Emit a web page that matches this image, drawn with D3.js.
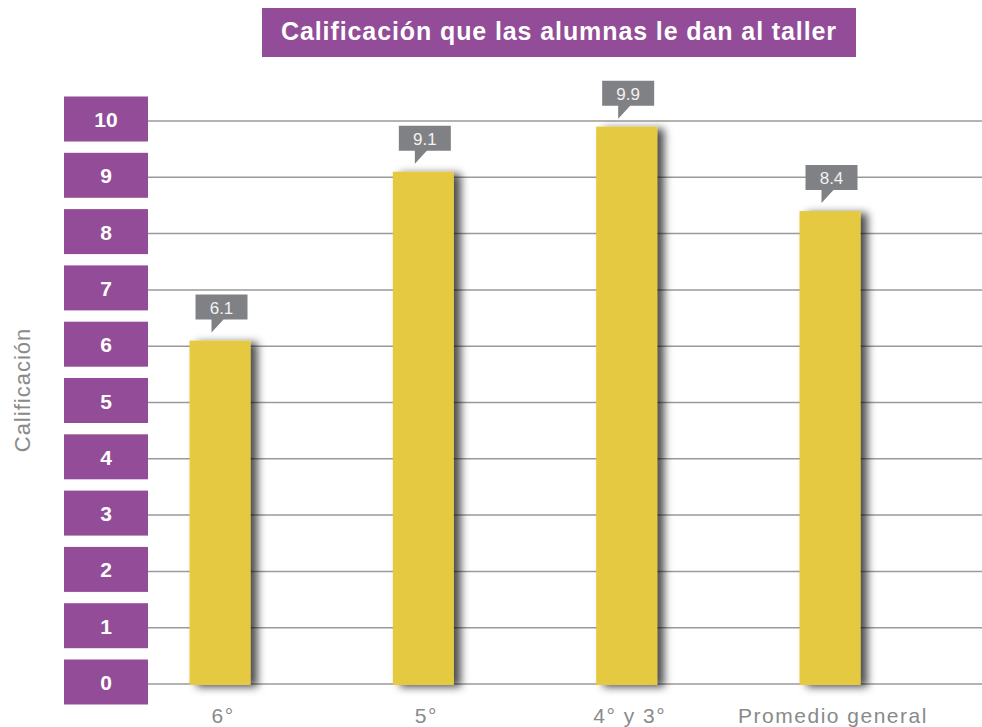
<!DOCTYPE html>
<html>
<head>
<meta charset="utf-8">
<script src="https://cdn.jsdelivr.net/npm/d3@7/dist/d3.min.js"></script>
<style>
  html, body { margin: 0; padding: 0; background: #fff; }
  svg { display: block; }
</style>
</head>
<body>
<div id="chart"></div>
<script>
// datos
const categories = ['6°', '5°', '4° y 3°', 'Promedio general'];
const values = [6.1, 9.1, 9.9, 8.4];
const valueLabels = ['6.1', '9.1', '9.9', '8.4'];
const yTicks = [0, 1, 2, 3, 4, 5, 6, 7, 8, 9, 10];
const title = 'Calificación que las alumnas le dan al taller';
const yTitle = 'Calificación';

const width = 982, height = 727;
const purple = '#934c98';
const yellow = '#e5c941';
const calloutGray = '#808184';
const font = "'Liberation Sans', Arial, Helvetica, sans-serif";

const svg = d3.select('#chart').append('svg')
    .attr('width', width)
    .attr('height', height)
    .attr('font-family', font);

// sombra de las barras
const defs = svg.append('defs');
const shadow = defs.append('filter')
    .attr('id', 'barShadow')
    .attr('x', '-30%').attr('y', '-10%')
    .attr('width', '170%').attr('height', '120%');
shadow.append('feDropShadow')
    .attr('dx', 7).attr('dy', 2)
    .attr('stdDeviation', 4.5)
    .attr('flood-color', '#000')
    .attr('flood-opacity', 0.7);

// escalas
const y = d3.scaleLinear().domain([0, 10]).range([684, 121]);
const x = d3.scalePoint().domain(categories).range([220, 830]);
const barW = 61;

// titulo
svg.append('rect')
    .attr('x', 262).attr('y', 8)
    .attr('width', 594).attr('height', 49)
    .attr('fill', purple);
svg.append('text')
    .attr('x', 559).attr('y', 40)
    .attr('text-anchor', 'middle')
    .attr('fill', '#fff')
    .attr('font-size', '25px')
    .attr('font-weight', 700)
    .attr('letter-spacing', '0.9px')
    .text(title);

// lineas de cuadricula
svg.append('g').attr('class', 'grid')
    .selectAll('line')
    .data(yTicks)
    .enter()
    .append('line')
    .attr('x1', 148).attr('x2', width)
    .attr('y1', d => y(d)).attr('y2', d => y(d))
    .attr('stroke', '#9a9a9a')
    .attr('stroke-width', 1.5);

// etiquetas del eje y en cajas moradas
const yLab = svg.append('g').attr('class', 'y-labels')
    .selectAll('g')
    .data(yTicks)
    .enter()
    .append('g')
    .attr('transform', d => `translate(64, ${y(d) - 2})`);
yLab.append('rect')
    .attr('x', 0).attr('y', -22.5)
    .attr('width', 84).attr('height', 45)
    .attr('fill', purple);
yLab.append('text')
    .attr('x', 42).attr('y', 8)
    .attr('text-anchor', 'middle')
    .attr('fill', '#fff')
    .attr('font-size', '21px')
    .attr('font-weight', 700)
    .text(d => d);

// titulo del eje y
svg.append('text')
    .attr('transform', 'translate(30, 390) rotate(-90)')
    .attr('text-anchor', 'middle')
    .attr('fill', '#8a8a8a')
    .attr('font-size', '22px')
    .attr('letter-spacing', '1px')
    .text(yTitle);

// barras
svg.append('g').attr('class', 'bars')
    .selectAll('rect')
    .data(values)
    .enter()
    .append('rect')
    .attr('x', (d, i) => x(categories[i]) - barW / 2)
    .attr('y', d => y(d))
    .attr('width', barW)
    .attr('height', d => y(0) - y(d) + 1)
    .attr('fill', yellow)
    .attr('filter', 'url(#barShadow)');

// globos con valores
const callouts = svg.append('g').attr('class', 'callouts')
    .selectAll('g')
    .data(values)
    .enter()
    .append('g')
    .attr('transform', (d, i) => `translate(${x(categories[i]) - barW / 2}, ${y(d)})`);
callouts.append('path')
    .attr('d', 'M6,-46 H58 V-21 H34 L22,-8 V-21 H6 Z')
    .attr('fill', calloutGray);
callouts.append('text')
    .attr('x', 32).attr('y', -27)
    .attr('text-anchor', 'middle')
    .attr('fill', '#f2f2f2')
    .attr('font-size', '17px')
    .text((d, i) => valueLabels[i]);

// etiquetas del eje x
svg.append('g').attr('class', 'x-labels')
    .selectAll('text')
    .data(categories)
    .enter()
    .append('text')
    .attr('x', d => x(d) + 3)
    .attr('y', 723)
    .attr('text-anchor', 'middle')
    .attr('fill', '#8a8a8a')
    .attr('font-size', '21px')
    .attr('letter-spacing', '1.5px')
    .text(d => d);
</script>
</body>
</html>
